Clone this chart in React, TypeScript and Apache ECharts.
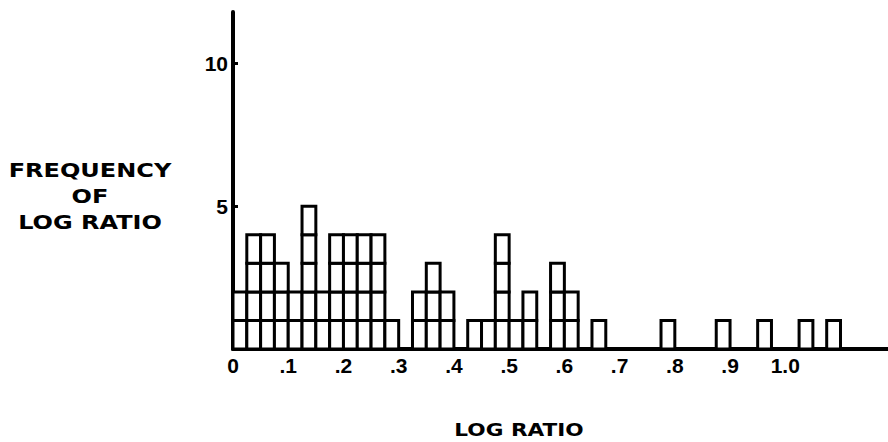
import React, { useEffect, useRef } from "react";
import * as echarts from "echarts";

// Histogram of log ratio: each bin is 0.025 wide, counted in unit boxes
const BIN_WIDTH = 0.025;
const binStart = [
  0, 0.025, 0.05, 0.075, 0.1, 0.125, 0.15, 0.175, 0.2, 0.225, 0.25, 0.275,
  0.325, 0.35, 0.375, 0.425, 0.45, 0.475, 0.5, 0.525, 0.575, 0.6, 0.65,
  0.775, 0.875, 0.95, 1.025, 1.075,
];
const frequency = [
  2, 4, 4, 3, 2, 5, 2, 4, 4, 4, 4, 1,
  2, 3, 2, 1, 1, 4, 1, 2, 3, 2, 1,
  1, 1, 1, 1, 1,
];
const yTicks = [5, 10];
const xTickLabels = ["0", ".1", ".2", ".3", ".4", ".5", ".6", ".7", ".8", ".9", "1.0"];
const yTitleLines = ["FREQUENCY", "OF", "LOG RATIO"];
const xTitle = "LOG RATIO";

export default function App() {
  const ref = useRef<HTMLDivElement>(null);
  useEffect(() => {
    if (!ref.current) return;
    const chart = echarts.init(ref.current, undefined, { renderer: "svg" });
    const numFont = "'Liberation Sans', Arial, sans-serif";
    const titleFont = "'DejaVu Sans', sans-serif";
    const data = binStart.map((s, i) => [s, frequency[i]]);
    const titleY = [170, 196, 222];
    chart.setOption({
      animation: false,
      backgroundColor: "#fff",
      grid: { left: 233, right: 0, top: 12, bottom: 93, containLabel: false },
      xAxis: {
        type: "value",
        min: 0,
        max: 1.186,
        interval: 0.1,
        axisLine: { show: true, onZero: true, lineStyle: { color: "#000", width: 4 } },
        axisTick: { show: false },
        splitLine: { show: false },
        axisLabel: {
          color: "#000",
          fontFamily: numFont,
          fontWeight: "bold",
          fontSize: 21,
          margin: 6,
          showMaxLabel: false,
          formatter: (v: number) => {
            const k = Math.round(v * 10);
            return k >= 0 && k < xTickLabels.length ? xTickLabels[k] : "";
          },
        },
      },
      yAxis: {
        type: "value",
        min: 0,
        max: 11.8,
        interval: 5,
        axisLine: { show: true, lineStyle: { color: "#000", width: 4 } },
        axisTick: { show: true, inside: true, length: 5, lineStyle: { color: "#000", width: 3 } },
        splitLine: { show: false },
        axisLabel: {
          color: "#000",
          fontFamily: numFont,
          fontWeight: "bold",
          fontSize: 21,
          margin: 5,
          showMaxLabel: false,
          formatter: (v: number) => (yTicks.includes(v) ? String(v) : ""),
        },
      },
      series: [
        {
          type: "custom",
          data,
          encode: { x: 0, y: 1 },
          clip: false,
          renderItem: (params: any, api: any) => {
            const x0 = api.value(0);
            const n = api.value(1);
            const children: any[] = [];
            for (let k = 0; k < n; k++) {
              const p0 = api.coord([x0, k]);
              const p1 = api.coord([x0 + BIN_WIDTH, k + 1]);
              children.push({
                type: "rect",
                shape: { x: p0[0], y: p1[1], width: p1[0] - p0[0], height: p0[1] - p1[1] },
                style: { fill: "#fff", stroke: "#000", lineWidth: 3 },
              });
            }
            return { type: "group", children };
          },
        },
      ],
      graphic: [
        ...yTitleLines.map((t, i) => ({
          type: "text",
          x: 90,
          y: titleY[i],
          scaleX: 1.2,
          style: {
            text: t,
            fill: "#000",
            font: `bold 20px ${titleFont}`,
            textAlign: "center",
            textVerticalAlign: "middle",
          },
        })),
        {
          type: "text",
          x: 519,
          y: 430,
          scaleX: 1.2,
          style: {
            text: xTitle,
            fill: "#000",
            font: `bold 18px ${titleFont}`,
            textAlign: "center",
            textVerticalAlign: "middle",
          },
        },
      ],
    });
    return () => chart.dispose();
  }, []);
  return <div ref={ref} style={{ width: 888, height: 442, position: "absolute", left: 0, top: 0 }} />;
}
